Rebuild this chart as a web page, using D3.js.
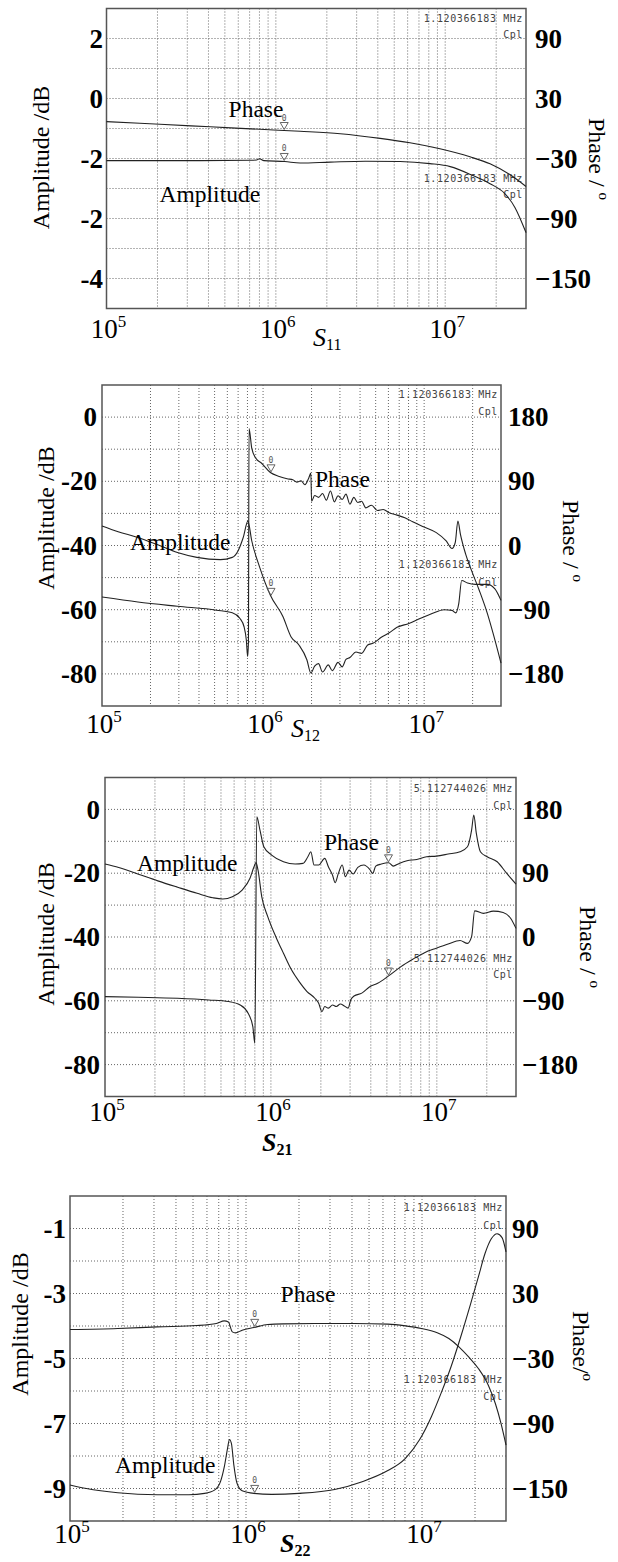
<!DOCTYPE html>
<html><head><meta charset="utf-8">
<script src="https://cdn.jsdelivr.net/npm/d3@7"></script>
<style>body{margin:0;background:#fff}svg{display:block}</style>
</head><body>
<svg id="c" width="618" height="1562"></svg>
<script>
// ---------------- DATA ----------------
const freqDomain = [1e5, 3e7];
const xTickValues = [1e5, 1e6, 1e7];
const xTickExps = ["5", "6", "7"];
const gridFreqs = [2e5,3e5,4e5,5e5,6e5,7e5,8e5,9e5,1e6,2e6,3e6,4e6,5e6,6e6,7e6,8e6,9e6,1e7,2e7];

// S11
const s11AmpGrid = [2,1,0,-1,-2,-3,-4,-5,-6];
const s11AmpTicks = [2,0,-2,-4,-6];
const s11AmpTickLabels = ["2","0","-2","-2","-4"];
const s11PhaseTicks = [90,30,-30,-90,-150];
const s11AmpFreq = [1e5,3.57e5,7.05e5,7.7e5,8.0e5,8.5e5,1.13e6,1.39e6,2.09e6,3.37e6,5.41e6,8.13e6,1.07e7,1.46e7,1.84e7,2.25e7,2.58e7,3.0e7];
const s11AmpDb   = [-2.07,-2.07,-2.06,-2.05,-2.01,-2.07,-2.10,-2.15,-2.12,-2.09,-2.10,-2.17,-2.27,-2.57,-2.84,-3.17,-3.63,-4.47];
const s11PhFreq  = [1e5,2.07e5,4.09e5,8.07e5,1.39e6,2.40e6,4.13e6,6.19e6,9.31e6,1.40e7,1.84e7,2.42e7,3.0e7];
const s11PhDeg   = [6.9,4.2,1.7,-0.8,-2.8,-5.3,-9.9,-14.3,-20.3,-28.3,-35.3,-46.3,-58.0];

// S12
const s12AmpGrid = [0,-10,-20,-30,-40,-50,-60,-70,-80];
const s12AmpTicks = [0,-20,-40,-60,-80];
const s12AmpTickLabels = ["0","-20","-40","-60","-80"];
const s12PhaseTicks = [180,90,0,-90,-180];
const s12AmpFreq = [1e5,1.26e5,1.67e5,2.22e5,2.94e5,3.88e5,5.44e5,6.44e5,7.0e5,7.53e5,8.05e5,8.51e5,9.53e5,1.11e6,1.33e6,1.49e6,1.67e6,1.87e6,1.98e6,2.09e6,2.21e6,2.34e6,2.54e6,2.69e6,2.92e6,3.10e6,3.27e6,3.46e6,3.77e6,4.09e6,4.46e6,4.84e6,5.42e6,6.07e6,6.79e6,8.04e6,9.51e6,1.12e7,1.33e7,1.49e7,1.57e7,1.64e7,1.71e7,1.86e7,2.08e7,2.47e7,2.75e7,3.0e7];
const s12AmpDb   = [-33.9,-35.7,-37.5,-39.8,-42.2,-43.7,-44.4,-43.7,-41.6,-37.5,-32.4,-38.6,-46.8,-55.5,-62.2,-68.4,-71.0,-75.6,-79.7,-77.6,-76.8,-79.4,-77.2,-79.0,-76.4,-77.8,-75.5,-74.9,-73.2,-73.6,-71.0,-70.4,-68.6,-67.2,-65.5,-64.3,-62.7,-61.2,-60.0,-60.2,-61.0,-58.1,-50.9,-51.7,-52.1,-52.1,-53.5,-57.1];
const s12PhFreq  = [1e5,1.67e5,2.94e5,5.14e5,6.44e5,7.19e5,7.62e5,7.87e5,8.02e5,8.11e5,8.18e5,8.51e5,9.02e5,9.79e5,1.11e6,1.26e6,1.41e6,1.53e6,1.62e6,1.72e6,1.82e6,1.92e6,1.98e6,2.00e6,2.09e6,2.21e6,2.34e6,2.47e6,2.62e6,2.77e6,2.92e6,3.10e6,3.27e6,3.46e6,3.66e6,3.87e6,4.09e6,4.34e6,4.71e6,5.13e6,5.57e6,6.07e6,6.79e6,7.59e6,8.49e6,1.0e7,1.19e7,1.37e7,1.49e7,1.56e7,1.62e7,1.68e7,1.81e7,1.97e7,2.20e7,2.47e7,2.68e7,3.0e7];
const s12PhDeg   = [-72.2,-79.2,-85.2,-90.7,-94.4,-102.3,-113.9,-132.4,-155.6,-137.0,163.9,136.1,122.2,115.3,102.3,96.8,93.5,92.1,88.9,90.7,85.2,94.4,101.4,62.0,70.1,67.5,72.8,63.6,76.4,61.2,69.8,64.5,72.0,57.9,67.4,60.3,62.1,52.8,56.5,49.1,50.5,45.8,42.6,38.9,33.3,25.9,18.1,6.5,-4.2,4.2,34.3,15.7,-12.0,-35.2,-63.0,-95.4,-123.1,-164.8];

// S21
const s21AmpGrid = [0,-10,-20,-30,-40,-50,-60,-70,-80];
const s21AmpTicks = [0,-20,-40,-60,-80];
const s21AmpTickLabels = ["0","-20","-40","-60","-80"];
const s21PhaseTicks = [180,90,0,-90,-180];
const s21AmpFreq = [1e5,1.21e5,1.59e5,2.08e5,2.74e5,3.59e5,4.47e5,5.12e5,5.86e5,6.71e5,7.48e5,7.91e5,8.13e5,8.36e5,8.81e5,9.57e5,1.07e6,1.19e6,1.33e6,1.48e6,1.65e6,1.84e6,1.94e6,2.03e6,2.11e6,2.22e6,2.35e6,2.48e6,2.62e6,2.77e6,2.92e6,3.03e6,3.17e6,3.53e6,3.94e6,4.40e6,5.12e6,6.08e6,7.16e6,8.43e6,9.93e6,1.17e7,1.38e7,1.53e7,1.62e7,1.69e7,1.91e7,2.19e7,2.51e7,2.79e7,3.0e7];
const s21AmpDb   = [-17.1,-18.2,-20.3,-22.4,-24.4,-26.3,-27.7,-28.1,-27.4,-25.3,-21.6,-18.0,-16.7,-19.0,-27.4,-33.6,-39.9,-45.1,-50.3,-54.0,-57.1,-59.2,-60.8,-63.4,-61.8,-62.3,-61.3,-61.8,-61.0,-61.6,-62.3,-59.7,-58.5,-57.6,-55.6,-54.5,-52.2,-49.3,-47.0,-44.9,-43.5,-42.2,-41.1,-42.0,-39.9,-31.8,-32.6,-31.9,-32.3,-34.2,-37.3];
const s21PhFreq  = [1e5,1.59e5,2.74e5,4.23e5,5.56e5,6.53e5,7.29e5,7.78e5,8.00e5,8.22e5,8.59e5,9.06e5,1.01e6,1.19e6,1.40e6,1.56e6,1.67e6,1.74e6,1.82e6,1.94e6,2.11e6,2.22e6,2.35e6,2.44e6,2.55e6,2.69e6,2.81e6,2.96e6,3.13e6,3.34e6,3.63e6,3.94e6,4.11e6,4.28e6,4.63e6,5.12e6,5.46e6,5.93e6,6.61e6,7.57e6,8.67e6,9.93e6,1.17e7,1.38e7,1.53e7,1.62e7,1.67e7,1.73e7,1.83e7,2.01e7,2.31e7,2.64e7,3.0e7];
const s21PhDeg   = [-84.1,-85.0,-86.4,-88.8,-91.1,-95.8,-107.6,-126.4,-149.8,169.6,150.8,127.3,115.6,106.2,102.9,103.8,113.2,120.3,101.5,101.5,110.9,99.1,87.4,76.6,89.7,101.5,85.0,94.4,88.8,98.2,101.5,95.4,89.7,100.0,102.9,104.7,100.0,103.8,107.6,109.4,113.2,114.1,117.0,120.3,127.3,150.8,171.9,146.1,120.3,113.2,106.2,89.7,74.7];

// S22
const s22AmpGrid = [-1,-2,-3,-4,-5,-6,-7,-8,-9];
const s22AmpTicks = [-1,-3,-5,-7,-9];
const s22AmpTickLabels = ["-1","-3","-5","-7","-9"];
const s22PhaseTicks = [90,30,-30,-90,-150];
const s22AmpFreq = [1e5,1.24e5,1.87e5,3.14e5,4.74e5,5.82e5,6.62e5,7.16e5,7.53e5,7.85e5,8.05e5,8.26e5,8.53e5,8.89e5,9.51e5,1.11e6,1.40e6,2.00e6,3.19e6,4.57e6,6.24e6,8.05e6,9.66e6,1.13e7,1.28e7,1.46e7,1.66e7,1.89e7,2.09e7,2.28e7,2.48e7,2.67e7,2.85e7,3.0e7];
const s22AmpDb   = [-8.89,-9.00,-9.13,-9.19,-9.19,-9.15,-9.05,-8.79,-8.33,-7.77,-7.49,-7.61,-8.28,-8.84,-9.07,-9.15,-9.18,-9.15,-9.03,-8.79,-8.48,-8.07,-7.51,-6.79,-6.08,-5.26,-4.33,-3.31,-2.49,-1.77,-1.31,-1.16,-1.28,-1.72];
const s22PhFreq  = [1e5,1.87e5,3.14e5,5.26e5,6.79e5,7.53e5,7.94e5,8.36e5,8.71e5,9.51e5,1.11e6,1.33e6,1.63e6,2.47e6,4.13e6,6.40e6,8.05e6,9.91e6,1.22e7,1.42e7,1.62e7,1.84e7,2.09e7,2.38e7,2.61e7,2.81e7,3.0e7];
const s22PhDeg   = [-3.3,-2.3,-0.8,0.4,2.3,4.7,3.8,-5.4,-6.3,-3.9,-1.4,1.4,2.0,2.3,2.3,1.7,0.1,-2.3,-6.3,-11.6,-19.2,-28.5,-39.2,-54.6,-71.5,-89.9,-109.9];

const markerFreqs = [1.120366183e6, 1.120366183e6, 5.112744026e6, 1.120366183e6];
const markerTexts = ["1.120366183 MHz","1.120366183 MHz","5.112744026 MHz","1.120366183 MHz"];

// ---------------- LAYOUT ----------------
const panels = [
  {left:106.5,right:526,top:8.5,bottom:308.5, ampDomain:[-7,3], phDomain:[-180,120],
   ampGrid:s11AmpGrid, ampTicks:s11AmpTicks, ampLabels:s11AmpTickLabels, phTicks:s11PhaseTicks,
   amp:[s11AmpFreq,s11AmpDb], ph:[s11PhFreq,s11PhDeg], mk:0,
   lTickX:103, rTickX:535, ampTitle:[48.5,157.5], phTitle:[589,159], phTitleText:"Phase / ",
   sub:{t:"S",s:"11",x:313,y:346,bold:false}, xlabY:338,
   phLab:[228.6,117], ampLab:[159.6,202], rd:[13.5,29,173.5,189]},
  {left:102,right:501,top:385,bottom:706, ampDomain:[-90,10], phDomain:[-225,225],
   ampGrid:s12AmpGrid, ampTicks:s12AmpTicks, ampLabels:s12AmpTickLabels, phTicks:s12PhaseTicks,
   amp:[s12AmpFreq,s12AmpDb], ph:[s12PhFreq,s12PhDeg], mk:1,
   lTickX:97, rTickX:508, ampTitle:[53.5,518], phTitle:[563,541], phTitleText:"Phase / ",
   sub:{t:"S",s:"12",x:291,y:737,bold:false}, xlabY:733,
   phLab:[315,487], ampLab:[130,550], rd:[13,30,183,201]},
  {left:105,right:516,top:777.5,bottom:1096.5, ampDomain:[-90,10], phDomain:[-225,225],
   ampGrid:s21AmpGrid, ampTicks:s21AmpTicks, ampLabels:s21AmpTickLabels, phTicks:s21PhaseTicks,
   amp:[s21AmpFreq,s21AmpDb], ph:[s21PhFreq,s21PhDeg], mk:2,
   lTickX:100, rTickX:522, ampTitle:[53.5,934], phTitle:[580,947], phTitleText:"Phase / ",
   sub:{t:"S",s:"21",x:262,y:1151,bold:true}, xlabY:1121,
   phLab:[324,850], ampLab:[137,871], rd:[14.5,31.5,184.5,200.5]},
  {left:70,right:506,top:1196,bottom:1521, ampDomain:[-10,0], phDomain:[-180,120],
   ampGrid:s22AmpGrid, ampTicks:s22AmpTicks, ampLabels:s22AmpTickLabels, phTicks:s22PhaseTicks,
   amp:[s22AmpFreq,s22AmpDb], ph:[s22PhFreq,s22PhDeg], mk:3,
   lTickX:66, rTickX:512, ampTitle:[27.5,1324], phTitle:[573,1346], phTitleText:"Phase/",
   sub:{t:"S",s:"22",x:280,y:1552,bold:true}, xlabY:1543,
   phLab:[280.6,1302], ampLab:[115,1473], rd:[15,33,187,204]}
];

const SERIF = "'Liberation Serif','Times New Roman',Times,serif";
const MONO = "'DejaVu Sans Mono','Liberation Mono',monospace";
const svg = d3.select("#c");

function interpLog(fr, vals, f) {
  const lf = Math.log10(f);
  for (let i = 0; i < fr.length - 1; i++) {
    if (f >= fr[i] && f <= fr[i+1]) {
      const a = Math.log10(fr[i]), b = Math.log10(fr[i+1]);
      const t = (lf - a) / (b - a);
      return vals[i] + t * (vals[i+1] - vals[i]);
    }
  }
  return vals[vals.length-1];
}

panels.forEach(p => {
  const g = svg.append("g");
  const x = d3.scaleLog().domain(freqDomain).range([p.left, p.right]);
  const yA = d3.scaleLinear().domain(p.ampDomain).range([p.bottom, p.top]);
  const yP = d3.scaleLinear().domain(p.phDomain).range([p.bottom, p.top]);

  // grid
  g.append("g").selectAll("line").data(gridFreqs).join("line")
    .attr("x1", d => x(d)).attr("x2", d => x(d))
    .attr("y1", p.top).attr("y2", p.bottom)
    .attr("stroke", "#666").attr("stroke-width", 1).attr("stroke-dasharray", "1,2");
  g.append("g").selectAll("line").data(p.ampGrid).join("line")
    .attr("x1", p.left).attr("x2", p.right)
    .attr("y1", d => yA(d)).attr("y2", d => yA(d))
    .attr("stroke", "#666").attr("stroke-width", 1).attr("stroke-dasharray", "1,2");

  // box
  g.append("rect").attr("x", p.left).attr("y", p.top)
    .attr("width", p.right - p.left).attr("height", p.bottom - p.top)
    .attr("fill", "none").attr("stroke", "#555").attr("stroke-width", 1.5);

  // left axis
  const la = g.append("g").attr("transform", `translate(${p.lTickX},0)`)
    .call(d3.axisLeft(yA).tickValues(p.ampTicks).tickSize(0).tickPadding(0)
      .tickFormat((d, i) => p.ampLabels[i]));
  la.select(".domain").remove();
  la.selectAll("text").attr("font-family", SERIF).attr("font-weight", "bold")
    .attr("font-size", 27).attr("fill", "#000");

  const ra = g.append("g").attr("transform", `translate(${p.rTickX},0)`)
    .call(d3.axisRight(yP).tickValues(p.phTicks).tickSize(0).tickPadding(0));
  ra.select(".domain").remove();
  ra.selectAll("text").attr("font-family", SERIF).attr("font-weight", "bold")
    .attr("font-size", 27).attr("fill", "#000");

  // x tick labels
  const xl = g.append("g").selectAll("text").data(xTickValues).join("text")
    .attr("x", d => x(d) + 2).attr("y", p.xlabY)
    .attr("text-anchor", "middle").attr("font-family", SERIF).attr("font-size", 27);
  xl.append("tspan").text("10");
  xl.append("tspan").attr("dy", -11).attr("font-size", 17).text((d, i) => xTickExps[i]);

  // S label
  const st = g.append("text").attr("x", p.sub.x).attr("y", p.sub.y)
    .attr("font-family", SERIF).attr("font-style", "italic").attr("font-size", 26)
    .attr("font-weight", p.sub.bold ? "bold" : "normal");
  st.append("tspan").text(p.sub.t);
  st.append("tspan").attr("dy", 4).attr("font-size", 16).attr("font-style", "normal").text(p.sub.s);

  // axis titles
  g.append("text").attr("transform", `translate(${p.ampTitle[0]},${p.ampTitle[1]}) rotate(-90)`)
    .attr("text-anchor", "middle").attr("font-family", SERIF).attr("font-size", 24)
    .text("Amplitude /dB");
  const pt = g.append("text").attr("transform", `translate(${p.phTitle[0]},${p.phTitle[1]}) rotate(90)`)
    .attr("text-anchor", "middle").attr("font-family", SERIF).attr("font-size", 24);
  pt.append("tspan").text(p.phTitleText);
  pt.append("tspan").attr("dy", -10).attr("font-size", 15).text("o");

  // readouts
  const rx = p.right - 3;
  [[p.rd[0], markerTexts[p.mk]], [p.rd[1], "Cpl"], [p.rd[2], markerTexts[p.mk]], [p.rd[3], "Cpl"]]
    .forEach(([dy, t]) => {
      g.append("text").attr("x", rx).attr("y", p.top + dy).attr("text-anchor", "end")
        .attr("font-family", MONO).attr("font-size", 10).attr("letter-spacing", 0.6)
        .attr("fill", "#444").text(t);
    });

  // traces
  const line = (ys) => d3.line().x(d => x(d[0])).y(d => ys(d[1])).curve(d3.curveMonotoneX);
  g.append("path").datum(d3.zip(p.ph[0], p.ph[1])).attr("d", line(yP))
    .attr("fill", "none").attr("stroke", "#222").attr("stroke-width", 1.1);
  g.append("path").datum(d3.zip(p.amp[0], p.amp[1])).attr("d", line(yA))
    .attr("fill", "none").attr("stroke", "#222").attr("stroke-width", 1.1);

  // markers
  const mf = markerFreqs[p.mk];
  [yP(interpLog(p.ph[0], p.ph[1], mf)), yA(interpLog(p.amp[0], p.amp[1], mf))].forEach(my => {
    const mx = x(mf);
    g.append("path").attr("d", `M${mx-4},${my-8}L${mx+4},${my-8}L${mx},${my-1}Z`)
      .attr("fill", "none").attr("stroke", "#555").attr("stroke-width", 0.9);
    g.append("text").attr("x", mx).attr("y", my - 10).attr("text-anchor", "middle")
      .attr("font-family", MONO).attr("font-size", 8).attr("fill", "#555").text("0");
  });

  // in-plot labels
  g.append("text").attr("x", p.phLab[0]).attr("y", p.phLab[1])
    .attr("font-family", SERIF).attr("font-size", 23.5).text("Phase");
  g.append("text").attr("x", p.ampLab[0]).attr("y", p.ampLab[1])
    .attr("font-family", SERIF).attr("font-size", 23.5).text("Amplitude");
});
</script>
</body></html>
